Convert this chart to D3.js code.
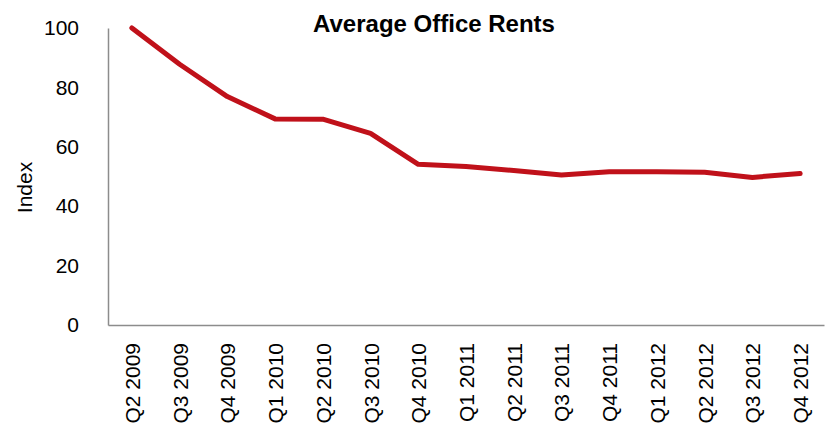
<!DOCTYPE html>
<html>
<head>
<meta charset="utf-8">
<script src="https://cdn.jsdelivr.net/npm/d3@7"></script>
<style>
  html, body { margin: 0; padding: 0; background: #fff; }
  svg { display: block; font-family: "Liberation Sans", Arial, sans-serif; }
</style>
</head>
<body>
<svg id="chart" width="829" height="427"></svg>
<script>
const categories = ["Q2 2009","Q3 2009","Q4 2009","Q1 2010","Q2 2010","Q3 2010","Q4 2010",
  "Q1 2011","Q2 2011","Q3 2011","Q4 2011","Q1 2012","Q2 2012","Q3 2012","Q4 2012"];
const rentIndex = [100, 87.8, 76.9, 69.4, 69.3, 64.5, 54.1, 53.4, 52.0, 50.5, 51.6, 51.6, 51.4, 49.7, 51.0];
const yTicks = [0, 20, 40, 60, 80, 100];
const title = "Average Office Rents";
const yTitle = "Index";

const svg = d3.select("#chart");
const margin = {left: 108, right: 5, top: 28, bottom: 102};
const W = 829, H = 427;

const x = d3.scaleBand().domain(categories).range([margin.left, W - margin.right]).padding(0);
const y = d3.scaleLinear().domain([0, 100]).range([H - margin.bottom, margin.top]);

const axisColor = "#8c8c8c";

// Y axis
const yAxis = svg.append("g").attr("transform", `translate(${margin.left},0)`)
  .call(d3.axisLeft(y).tickValues(yTicks).tickSize(0).tickPadding(29));
yAxis.select(".domain").attr("stroke", axisColor).attr("stroke-width", 1.5);
yAxis.selectAll("text").attr("font-size", 21).attr("fill", "#000")
  .attr("font-family", "'Liberation Sans', Arial, sans-serif");

// X axis
const xAxis = svg.append("g").attr("transform", `translate(0,${y(0)})`)
  .call(d3.axisBottom(x).tickSize(0).tickPadding(0));
xAxis.select(".domain").attr("stroke", axisColor).attr("stroke-width", 1.5);
xAxis.selectAll("text")
  .attr("font-size", 21).attr("fill", "#000")
  .attr("font-family", "'Liberation Sans', Arial, sans-serif")
  .attr("text-anchor", "end")
  .attr("dy", null)
  .attr("transform", "translate(8,18) rotate(-90)");

// Line
const line = d3.line()
  .x((d, i) => x(categories[i]) + x.bandwidth() / 2)
  .y(d => y(d));
svg.append("path").datum(rentIndex)
  .attr("fill", "none")
  .attr("stroke", "#c0111a")
  .attr("stroke-width", 5)
  .attr("stroke-linejoin", "round")
  .attr("stroke-linecap", "round")
  .attr("d", line);

// Title
svg.append("text").attr("x", 434).attr("y", 32)
  .attr("text-anchor", "middle").attr("font-size", 24).attr("font-weight", "bold")
  .attr("fill", "#000").text(title);

// Y axis title
svg.append("text")
  .attr("transform", "translate(32,187.5) rotate(-90)")
  .attr("text-anchor", "middle").attr("font-size", 21).attr("fill", "#000")
  .text(yTitle);
</script>
</body>
</html>
